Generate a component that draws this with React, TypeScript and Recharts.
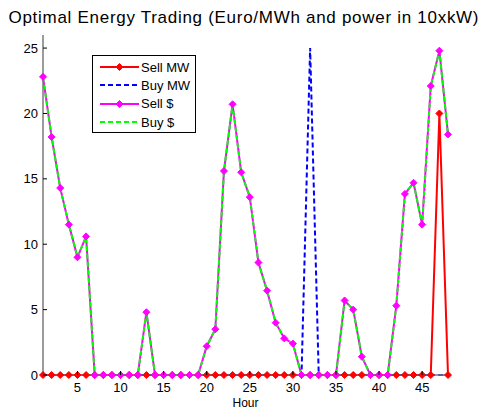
import React from "react";
import { LineChart, XAxis, YAxis, Line, Legend } from "recharts";

const hours = [
  1, 2, 3, 4, 5, 6, 7, 8, 9, 10, 11, 12, 13, 14, 15, 16, 17, 18, 19, 20, 21, 22, 23, 24,
  25, 26, 27, 28, 29, 30, 31, 32, 33, 34, 35, 36, 37, 38, 39, 40, 41, 42, 43, 44, 45, 46, 47, 48,
];

const sellMW = [
  0, 0, 0, 0, 0, 0, 0, 0, 0, 0, 0, 0, 0, 0, 0, 0, 0, 0, 0, 0, 0, 0, 0, 0,
  0, 0, 0, 0, 0, 0, 0, 0, 0, 0, 0, 0, 0, 0, 0, 0, 0, 0, 0, 0, 0, 0, 20, 0,
];

const buyMW = [
  0, 0, 0, 0, 0, 0, 0, 0, 0, 0, 0, 0, 0, 0, 0, 0, 0, 0, 0, 0, 0, 0, 0, 0,
  0, 0, 0, 0, 0, 0, 0, 25, 0, 0, 0, 0, 0, 0, 0, 0, 0, 0, 0, 0, 0, 0, 0, 0,
];

const sellPrice = [
  22.8, 18.2, 14.3, 11.5, 9.0, 10.6, 0, 0, 0, 0, 0, 0, 4.8, 0, 0, 0, 0, 0, 0, 2.2, 3.5, 15.6, 20.7, 15.5,
  13.6, 8.6, 6.45, 4.0, 2.8, 2.4, 0, 0, 0, 0, 0, 5.7, 5.0, 1.4, 0, 0, 0, 5.3, 13.85, 14.7, 11.5, 22.1, 24.8, 18.4,
];

const buyPrice = [
  22.8, 18.2, 14.3, 11.5, 9.0, 10.6, 0, 0, 0, 0, 0, 0, 4.8, 0, 0, 0, 0, 0, 0, 2.2, 3.5, 15.6, 20.7, 15.5,
  13.6, 8.6, 6.45, 4.0, 2.8, 2.4, 0, 0, 0, 0, 0, 5.7, 5.0, 1.4, 0, 0, 0, 5.3, 13.85, 14.7, 11.5, 22.1, 24.8, 18.4,
];

const xTicks = [5, 10, 15, 20, 25, 30, 35, 40, 45];
const yTicks = [0, 5, 10, 15, 20, 25];

const FONT = "'Liberation Sans', Arial, Helvetica, sans-serif";

const data = hours.map((h, i) => ({
  hour: h,
  sellMW: sellMW[i],
  buyMW: buyMW[i],
  sellPrice: sellPrice[i],
  buyPrice: buyPrice[i],
}));

const legendItems = [
  { label: "Sell MW", color: "#ff0000", dash: undefined, marker: true },
  { label: "Buy MW", color: "#0000ff", dash: "5 3", marker: false },
  { label: "Sell $", color: "#ff00ff", dash: undefined, marker: true },
  { label: "Buy $", color: "#00ff00", dash: "5 3", marker: false },
];

const diamond = (color: string) => (props: any) => {
  const { cx, cy, index } = props;
  if (cx == null || cy == null) return <g key={index} />;
  const r = 3.5;
  return (
    <path
      key={index}
      d={`M${cx},${cy - r} L${cx + r},${cy} L${cx},${cy + r} L${cx - r},${cy} Z`}
      fill={color}
      stroke={color}
      strokeWidth={1}
    />
  );
};

const YTick = (props: any) => {
  const { x, y, payload } = props;
  return (
    <g>
      <line x1={x} x2={x + 4} y1={y} y2={y} stroke="#000" strokeWidth={1} />
      <text x={x - 5} y={y + 4.5} textAnchor="end" fontSize={13} fontFamily={FONT} fill="#000">
        {payload.value}
      </text>
    </g>
  );
};

const XTick = (props: any) => {
  const { x, y, payload } = props;
  return (
    <g>
      <line x1={x} x2={x} y1={y} y2={y - 4} stroke="#000" strokeWidth={1} />
      <text x={x} y={y + 17} textAnchor="middle" fontSize={13} fontFamily={FONT} fill="#000">
        {payload.value}
      </text>
    </g>
  );
};

const LegendBox = () => (
  <div
    style={{
      border: "1px solid #000",
      background: "#fff",
      width: 104,
      height: 78,
      boxSizing: "border-box",
      padding: "2px 0 0 0",
      fontFamily: FONT,
      fontSize: 13,
    }}
  >
    {legendItems.map((it) => (
      <div key={it.label} style={{ display: "flex", alignItems: "center", height: 18.3 }}>
        <svg width={48} height={18} style={{ display: "block" }}>
          <line
            x1={7}
            x2={46}
            y1={9}
            y2={9}
            stroke={it.color}
            strokeWidth={2}
            strokeDasharray={it.dash}
          />
          {it.marker && (
            <path d="M26.5,5.5 L30,9 L26.5,12.5 L23,9 Z" fill={it.color} stroke={it.color} />
          )}
        </svg>
        <span style={{ color: "#000" }}>{it.label}</span>
      </div>
    ))}
  </div>
);

export default function App() {
  return (
    <div style={{ position: "absolute", left: 0, top: 0, width: 481, height: 411, background: "#fff" }}>
      <svg width={481} height={30} style={{ position: "absolute", left: 0, top: 0 }}>
        <text
          x={243.5}
          y={23}
          textAnchor="middle"
          fontSize={17}
          fontFamily={FONT}
          fill="#000"
          textLength={470}
          lengthAdjust="spacing"
        >
          Optimal Energy Trading (Euro/MWh and power in 10xkW)
        </text>
      </svg>
      <LineChart
        width={481}
        height={411}
        data={data}
        margin={{ top: 35, right: 33, left: 13, bottom: 1 }}
      >
        <XAxis
          dataKey="hour"
          type="number"
          domain={[1, 48]}
          ticks={xTicks}
          interval={0}
          height={35}
          tickSize={0}
          tickMargin={0}
          tick={<XTick />}
          axisLine={{ stroke: "#7a7a7a", strokeWidth: 1.5 }}
          label={{
            value: "Hour",
            position: "insideBottom",
            offset: 3,
            fontSize: 12,
            fontFamily: FONT,
            fill: "#000",
          }}
        />
        <YAxis
          type="number"
          domain={[0, 26]}
          ticks={yTicks}
          interval={0}
          width={30}
          tickSize={0}
          tickMargin={0}
          tick={<YTick />}
          axisLine={{ stroke: "#7a7a7a", strokeWidth: 1.5 }}
        />
        <Legend
          layout="vertical"
          verticalAlign="middle"
          align="center"
          content={<LegendBox />}
          wrapperStyle={{ left: 92, top: 55, width: 104 }}
        />
        <Line
          dataKey="sellMW"
          name="Sell MW"
          stroke="#ff0000"
          strokeWidth={2}
          dot={diamond("#ff0000")}
          activeDot={false}
          type="linear"
          isAnimationActive={false}
        />
        <Line
          dataKey="buyMW"
          name="Buy MW"
          stroke="#0000ff"
          strokeWidth={2}
          strokeDasharray="5 3"
          dot={false}
          activeDot={false}
          type="linear"
          isAnimationActive={false}
        />
        <Line
          dataKey="sellPrice"
          name="Sell $"
          stroke="#ff00ff"
          strokeWidth={2}
          dot={diamond("#ff00ff")}
          activeDot={false}
          type="linear"
          isAnimationActive={false}
        />
        <Line
          dataKey="buyPrice"
          name="Buy $"
          stroke="#00ff00"
          strokeWidth={2}
          strokeDasharray="5 3"
          dot={false}
          activeDot={false}
          type="linear"
          isAnimationActive={false}
        />
      </LineChart>
    </div>
  );
}
